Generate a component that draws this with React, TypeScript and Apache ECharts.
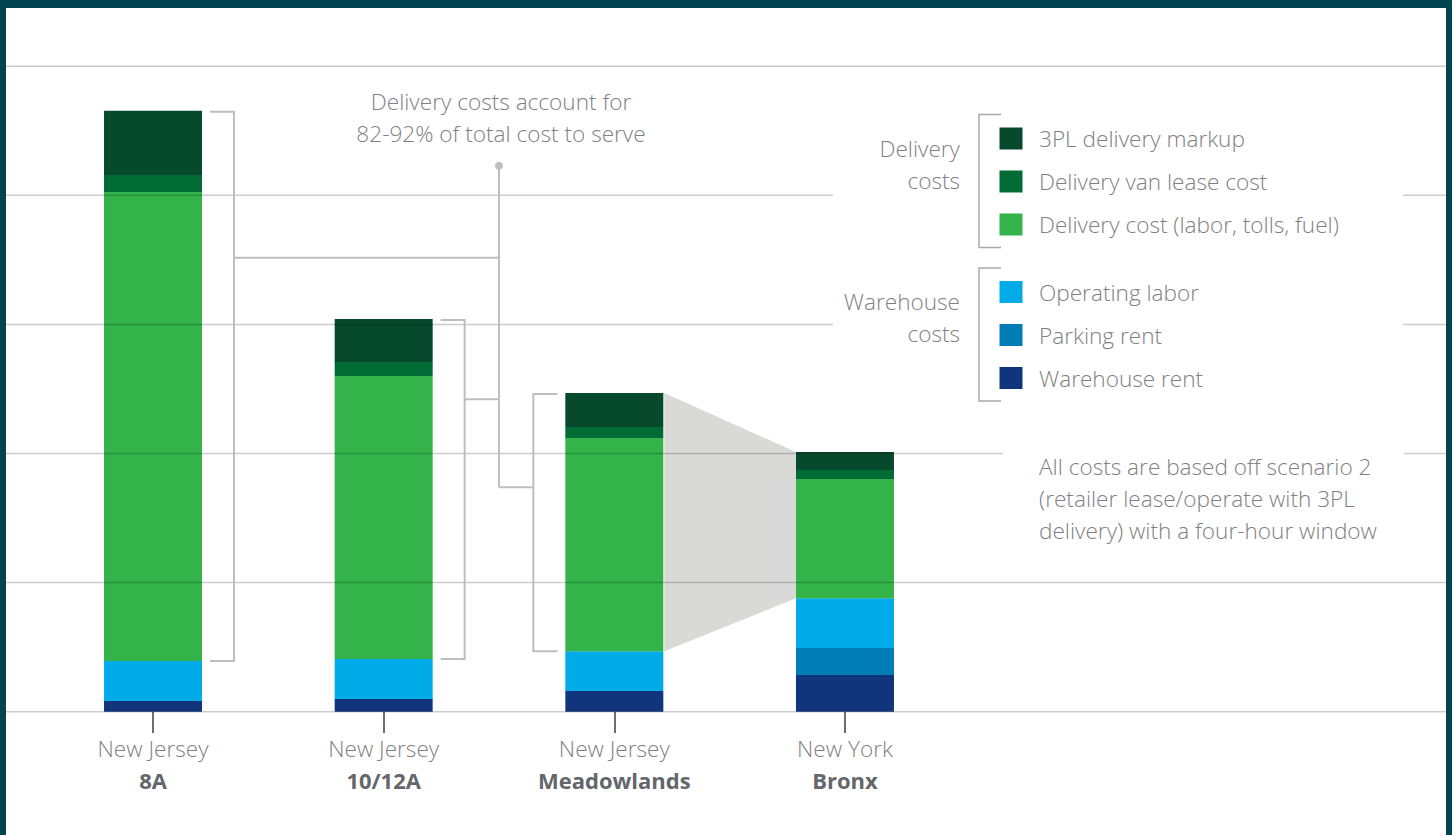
import React, { useEffect, useRef } from "react";
import * as echarts from "echarts";

// ---- data ----
const regions = ["New Jersey", "New Jersey", "New Jersey", "New York"];
const sites = ["8A", "10/12A", "Meadowlands", "Bronx"];
const warehouseRent = [0.083, 0.098, 0.16, 0.284];
const parkingRent = [0, 0, 0, 0.209];
const operatingLabor = [0.31, 0.31, 0.308, 0.385];
const deliveryCost = [3.633, 2.192, 1.652, 0.924];
const vanLease = [0.132, 0.108, 0.085, 0.07];
const markup = [0.496, 0.333, 0.263, 0.139];
const yTicks = [0, 1, 2, 3, 4, 5];

const seriesDefs = [
  { name: "Warehouse rent", data: warehouseRent, color: "#11357D" },
  { name: "Parking rent", data: parkingRent, color: "#007DB7" },
  { name: "Operating labor", data: operatingLabor, color: "#00ABE7" },
  { name: "Delivery cost (labor, tolls, fuel)", data: deliveryCost, color: "#33B34A" },
  { name: "Delivery van lease cost", data: vanLease, color: "#006B35" },
  { name: "3PL delivery markup", data: markup, color: "#07492C" },
];
const deliveryGroup = ["3PL delivery markup", "Delivery van lease cost", "Delivery cost (labor, tolls, fuel)"];
const warehouseGroup = ["Operating labor", "Parking rent", "Warehouse rent"];
const annotationLines = ["Delivery costs account for", "82-92% of total cost to serve"];
const noteLines = [
  "All costs are based off scenario 2",
  "(retailer lease/operate with 3PL",
  "delivery) with a four-hour window",
];

const FONT = "'Open Sans', 'Noto Sans', sans-serif";
const TEXT_GREY = "#7F8083";
const BORDER = "#02444F";
const BAR_W = 98;
const FS = 22.6;

const warehouseTotal = (i: number) => warehouseRent[i] + parkingRent[i] + operatingLabor[i];
const stackTotal = (i: number) => warehouseTotal(i) + deliveryCost[i] + vanLease[i] + markup[i];

export default function App() {
  const ref = useRef<HTMLDivElement>(null);
  useEffect(() => {
    document.body.style.margin = "0";
    const chart = echarts.init(ref.current!, null, { renderer: "svg" });
    const option: any = {
      animation: false,
      backgroundColor: "#ffffff",
      grid: { left: 37.7, right: 491.7, top: 66.2, bottom: 123.3, containLabel: false },
      xAxis: {
        type: "category",
        data: sites.map((s, i) => regions[i] + "\n" + s),
        axisLine: { show: false },
        axisTick: { show: true, alignWithLabel: true, length: 21.3, lineStyle: { color: "#6d6e71", width: 2 } },
        splitLine: { show: false },
        axisLabel: {
          margin: 20.3,
          formatter: (v: string) => {
            const [a, b] = v.split("\n");
            return "{a|" + a + "}\n{b|" + b + "}";
          },
          rich: {
            a: { fontFamily: FONT, fontWeight: 300, fontSize: FS, color: TEXT_GREY, lineHeight: 32 },
            b: { fontFamily: FONT, fontWeight: 700, fontSize: 22, color: "#63666A", lineHeight: 32 },
          },
        },
      },
      yAxis: {
        type: "value",
        min: 0,
        max: 5,
        interval: 1,
        show: false,
        splitLine: { show: false },
      },
      series: [
        ...seriesDefs.map((s) => ({
          name: s.name,
          type: "bar",
          stack: "total",
          barWidth: BAR_W,
          data: s.data,
          itemStyle: { color: s.color },
          silent: true,
          z: 2,
        })),
        {
          type: "custom",
          z: 1,
          silent: true,
          data: [[2, stackTotal(2), warehouseTotal(2), 3, stackTotal(3), warehouseTotal(3)]],
          encode: { x: 0, y: 1 },
          renderItem: (params: any, api: any) => {
            const a = api.coord([api.value(0), api.value(1)]);
            const b = api.coord([api.value(3), api.value(4)]);
            const c = api.coord([api.value(3), api.value(5)]);
            const d = api.coord([api.value(0), api.value(2)]);
            const h = BAR_W / 2;
            return {
              type: "polygon",
              shape: {
                points: [
                  [a[0] + h + 1, a[1]],
                  [b[0] - h, b[1]],
                  [c[0] - h, c[1]],
                  [d[0] + h + 1, d[1]],
                ],
              },
              style: { fill: "#D9D9D8" },
            };
          },
        },
      ],
    };
    chart.setOption(option);

    const px = (i: number, v: number) =>
      chart.convertToPixel({ xAxisIndex: 0, yAxisIndex: 0 }, [i, v]) as number[];

    const g: any[] = [];
    const lineStyle = { stroke: "#BDBFBF", lineWidth: 2 };

    // gridlines on top of bars
    yTicks.forEach((v) => {
      const y = px(0, v)[1];
      g.push({
        type: "line",
        z: 10,
        silent: true,
        shape: { x1: 6, y1: y, x2: 1446, y2: y },
        style: { stroke: "rgba(0,0,0,0.2)", lineWidth: 1.5 },
      });
    });

    // brackets
    const cx = [0, 1, 2, 3].map((i) => px(i, 0)[0]);
    const h = BAR_W / 2;
    const bracket = (i: number, side: 1 | -1) => {
      const top = px(i, stackTotal(i))[1] + 1;
      const bot = px(i, warehouseTotal(i))[1];
      const edge = cx[i] + side * h;
      const xIn = edge + side * 8;
      const xV = edge + side * 32;
      g.push({
        type: "polyline",
        z: 12,
        silent: true,
        shape: { points: [[xIn, top], [xV, top], [xV, bot], [xIn, bot]] },
        style: { ...lineStyle, fill: "none" },
      });
      return xV;
    };
    const b0 = bracket(0, 1);
    const b1 = bracket(1, 1);
    const b2 = bracket(2, -1);
    const xv = (cx[1] + cx[2]) / 2;
    const dotY = 165.7;
    const c0 = 257.7;
    const c1 = 399.3;
    const c2 = 487.3;
    g.push({ type: "line", z: 12, silent: true, shape: { x1: b0, y1: c0, x2: xv, y2: c0 }, style: lineStyle });
    g.push({ type: "line", z: 12, silent: true, shape: { x1: b1, y1: c1, x2: xv, y2: c1 }, style: lineStyle });
    g.push({ type: "line", z: 12, silent: true, shape: { x1: xv, y1: c2, x2: b2, y2: c2 }, style: lineStyle });
    g.push({ type: "line", z: 12, silent: true, shape: { x1: xv, y1: dotY, x2: xv, y2: c2 }, style: lineStyle });
    g.push({ type: "circle", z: 12, silent: true, shape: { cx: xv, cy: dotY, r: 4 }, style: { fill: "#BDBFBF" } });
    annotationLines.forEach((t, k) => {
      g.push({
        type: "text",
        z: 12,
        silent: true,
        x: xv + 2,
        y: 101 + k * 32,
        style: {
          text: t,
          fill: TEXT_GREY,
          fontFamily: FONT,
          fontWeight: 300,
          fontSize: FS,
          textAlign: "center",
          textVerticalAlign: "middle",
        },
      });
    });

    // white boxes covering gridlines behind legend and note
    g.push({ type: "rect", z: 20, silent: true, shape: { x: 833, y: 100, width: 570, height: 315 }, style: { fill: "#ffffff" } });
    g.push({ type: "rect", z: 20, silent: true, shape: { x: 1003, y: 440, width: 401, height: 110 }, style: { fill: "#ffffff" } });

    // legend
    const colorOf = (n: string) => seriesDefs.find((s) => s.name === n)!.color;
    const legendGroup = (names: string[], labels: string[], y0: number) => {
      const top = y0 - 24;
      const bot = y0 + 2 * 43 + 23;
      g.push({
        type: "polyline",
        z: 30,
        silent: true,
        shape: { points: [[1001, top], [979, top], [979, bot], [1001, bot]] },
        style: { stroke: "#A7A9AC", lineWidth: 1.5, fill: "none" },
      });
      names.forEach((n, k) => {
        const y = y0 + k * 43;
        g.push({ type: "rect", z: 30, silent: true, shape: { x: 999.5, y: y - 11, width: 23, height: 22 }, style: { fill: colorOf(n) } });
        g.push({
          type: "text",
          z: 30,
          silent: true,
          x: 1039,
          y: y,
          style: { text: n, fill: TEXT_GREY, fontFamily: FONT, fontWeight: 300, fontSize: FS, textAlign: "left", textVerticalAlign: "middle" },
        });
      });
      labels.forEach((t, k) => {
        g.push({
          type: "text",
          z: 30,
          silent: true,
          x: 960,
          y: y0 + 9.5 + k * 32,
          style: { text: t, fill: TEXT_GREY, fontFamily: FONT, fontWeight: 300, fontSize: FS, textAlign: "right", textVerticalAlign: "middle" },
        });
      });
    };
    legendGroup(deliveryGroup, ["Delivery", "costs"], 138.5);
    legendGroup(warehouseGroup, ["Warehouse", "costs"], 292);

    noteLines.forEach((t, k) => {
      g.push({
        type: "text",
        z: 30,
        silent: true,
        x: 1039,
        y: 466 + k * 32,
        style: { text: t, fill: TEXT_GREY, fontFamily: FONT, fontWeight: 300, fontSize: FS, textAlign: "left", textVerticalAlign: "middle" },
      });
    });

    // frame
    g.push({ type: "rect", z: 50, silent: true, shape: { x: 0, y: 0, width: 1452, height: 8 }, style: { fill: BORDER } });
    g.push({ type: "rect", z: 50, silent: true, shape: { x: 0, y: 0, width: 6, height: 835 }, style: { fill: BORDER } });
    g.push({ type: "rect", z: 50, silent: true, shape: { x: 1446, y: 0, width: 6, height: 835 }, style: { fill: BORDER } });

    chart.setOption({ graphic: { elements: g } });

    return () => chart.dispose();
  }, []);
  return <div ref={ref} style={{ width: 1452, height: 835 }} />;
}
